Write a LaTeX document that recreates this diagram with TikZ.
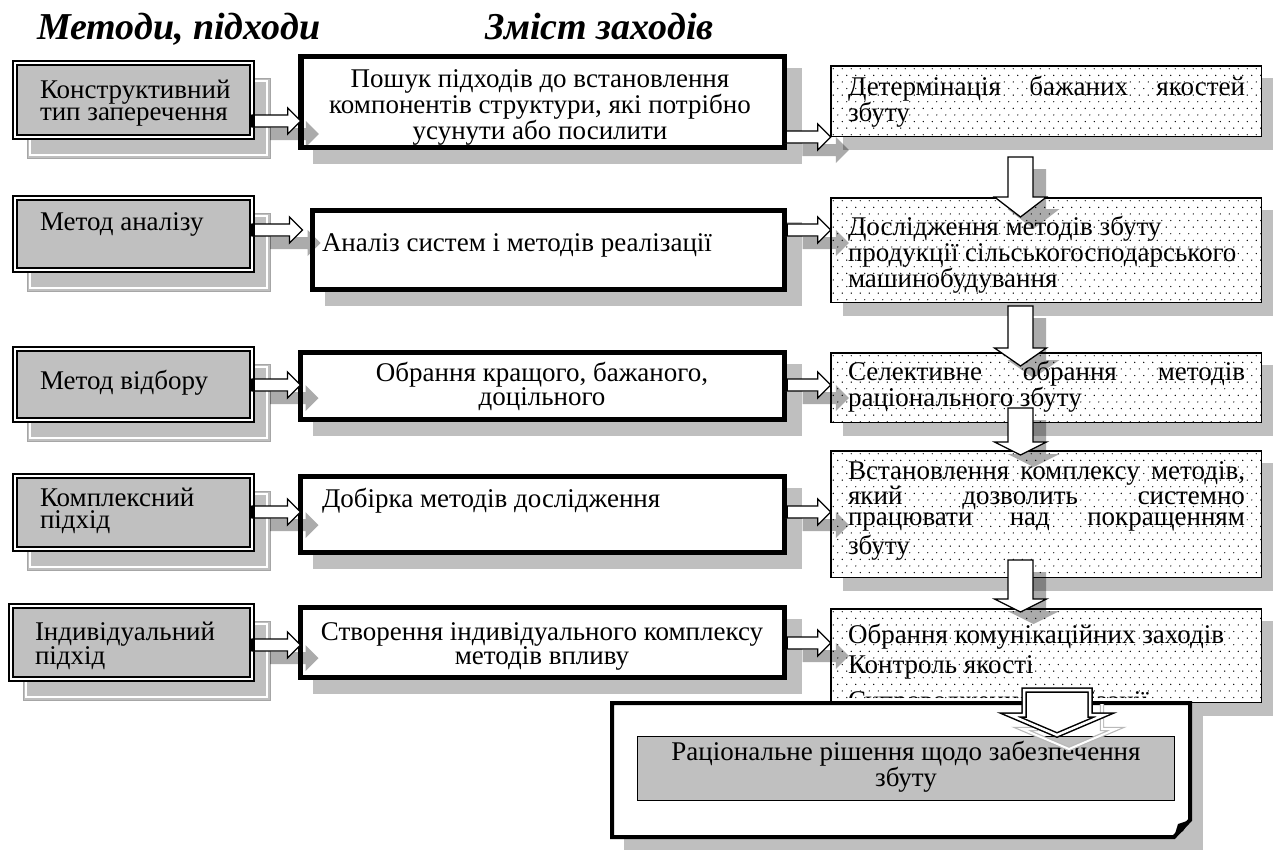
\documentclass[tikz,border=0pt]{standalone}
\usepackage{fontspec}
\setmainfont{Liberation Serif}
\usetikzlibrary{calc}
\definecolor{boxgray}{RGB}{192,192,192}
\definecolor{shadegray}{RGB}{191,191,191}

% horizontal block arrow: tail anchor, tip anchor, y level, x/y offset (pt, y up)
\newcommand\harrowpath[5]{let \p1=(#1), \p2=(#2), \p3=(0,#3) in
  ({\x1+#4pt},{\y3+#5pt+6pt}) -- ({\x2+#4pt-13pt},{\y3+#5pt+6pt}) --
  ({\x2+#4pt-13pt},{\y3+#5pt+13pt}) -- ({\x2+#4pt},{\y3+#5pt}) --
  ({\x2+#4pt-13pt},{\y3+#5pt-13pt}) -- ({\x2+#4pt-13pt},{\y3+#5pt-6pt}) --
  ({\x1+#4pt},{\y3+#5pt-6pt}) -- cycle}
% vertical block arrow: tail, tip, head length, x/y offset
\newcommand\varrowpath[5]{let \p1=(#1), \p2=(#2) in
  ({\x1+#4pt-12.5pt},{\y1+#5pt}) -- ({\x1+#4pt-12.5pt},{\y2+#5pt+#3pt}) --
  ({\x1+#4pt-26pt},{\y2+#5pt+#3pt}) -- ({\x1+#4pt},{\y2+#5pt}) --
  ({\x1+#4pt+26pt},{\y2+#5pt+#3pt}) -- ({\x1+#4pt+12.5pt},{\y2+#5pt+#3pt}) --
  ({\x1+#4pt+12.5pt},{\y1+#5pt}) -- cycle}
% arrow between columns, with its shadow and the dark tail block
\newcommand\linkarrow[3]{%
  \fill[arrshade] \harrowpath{#1}{#2}{#3}{18}{-13};
  \draw[arrowbody] \harrowpath{#1}{#2}{#3}{0}{0};
  \fill let \p1=(#1), \p3=(0,#3) in ({\x1-2.5pt},{\y3-6pt}) rectangle ({\x1+3pt},{\y3+6pt});}
\newcommand\colarrow[3]{%
  \fill[arrshade] \varrowpath{#1}{#2}{#3}{13}{-12};
  \draw[arrowbody] \varrowpath{#1}{#2}{#3}{0}{0};}
% dotted fill of the right-hand boxes
\newcommand\dotgrid[1]{%
  \begin{scope}
    \clip (#1.north west) rectangle (#1.south east);
    \path let \p1=(#1.north west) in coordinate (dg) at (\x1,\y1);
    \foreach \j in {0,...,20}{\foreach \i in {0,...,49}{%
      \fill ($(dg)+({2.5+\i*9+mod(\j,2)*4.5},{3+\j*6.6})$) circle[radius=0.7];}}
  \end{scope}}

\begin{document}
\begin{tikzpicture}[x=1pt,y=-1pt,
  every node/.style={inner sep=0pt, outer sep=0pt},
  txt/.style={font=\fontsize{27}{22.5}\selectfont},
  ttl/.style={font=\fontsize{38}{40}\selectfont\bfseries\itshape, anchor=base west},
  lbox/.style={draw, line width=1.8pt, double=white, double distance=2pt,
    fill=boxgray, anchor=north west},
  mbox/.style={draw, line width=5.5pt, fill=white, anchor=north west},
  dbox/.style={draw, line width=1.5pt, fill=white, anchor=north west},
  lshade/.style={fill=shadegray, draw=gray!70, line width=0.8pt},
  arrshade/.style={fill=black, fill opacity=0.33},
  arrowbody/.style={draw=black, line width=1.3pt, fill=white, line join=miter}]
\useasboundingbox (0,0) rectangle (1273,859);

% ---------- titles
\node[ttl] (t1) at (37,40) {Методи, підходи};
\node[ttl] (t2) at (485,40) {Зміст заходів};

% ---------- left column shadows
\foreach \x/\y/\w/\h in {12/60/243/80, 12/195/243/78, 12/346/243/77, 12/473/243/79, 8/603/247/79}{
  \filldraw[lshade] (\x+15,\y+18) rectangle (\x+15+\w,\y+18+\h);
  \draw[white, line width=1.2pt] (\x+18,\y+21) rectangle (\x+12+\w,\y+15+\h);}
% ---------- middle column shadows
\foreach \x/\y/\w/\h in {298/54/489/96, 310/208/477/84, 298/350/489/72, 298/474/489/81, 298/605/489/75}{
  \fill[shadegray] (\x+15,\y+14) rectangle (\x+15+\w,\y+14+\h);}
% ---------- right column shadows
\foreach \y/\h in {65/72, 197/106, 352/71, 450/128, 608/95}{
  \fill[shadegray] (843,\y+13) rectangle (1290,\y+13+\h);}
% ---------- result box shadow
\fill[shadegray] (624,715) rectangle (1203,850);

% ---------- left column
\node[lbox, minimum width=237, minimum height=74] (l1) at (15,63) {};
\node[lbox, minimum width=237, minimum height=72] (l2) at (15,198) {};
\node[lbox, minimum width=237, minimum height=71] (l3) at (15,349) {};
\node[lbox, minimum width=237, minimum height=73] (l4) at (15,476) {};
\node[lbox, minimum width=241, minimum height=73] (l5) at (11,606) {};
\node[txt, anchor=base west] (l1t) at (40,98) {\parbox[t]{210pt}{\raggedright Конструктивний\\тип заперечення}};
\node[txt, anchor=base west] (l2t) at (40,230) {Метод аналізу};
\node[txt, anchor=base west] (l3t) at (40,389) {Метод відбору};
\node[txt, anchor=base west] (l4t) at (40,506) {\parbox[t]{210pt}{\raggedright Комплексний\\підхід}};
\node[txt, anchor=base west] (l5t) at (35,640) {\parbox[t]{210pt}{\raggedright Індивідуальний\\підхід}};

% ---------- middle column
\node[mbox, minimum width=483.5, minimum height=90.5] (m1) at (300.75,56.75) {};
\node[mbox, minimum width=472, minimum height=79] (m2) at (312.5,210.5) {};
\node[mbox, minimum width=484, minimum height=67] (m3) at (300.5,352.5) {};
\node[mbox, minimum width=484, minimum height=76] (m4) at (300.5,476.5) {};
\node[mbox, minimum width=484, minimum height=70] (m5) at (300.5,607.5) {};
\node[txt, anchor=base] (m1t) at (540,87) {\parbox[t]{470pt}{\centering Пошук підходів до встановлення\\компонентів структури, які потрібно\\усунути або посилити}};
\node[txt, anchor=base west] (m2t) at (322,251) {Аналіз систем і методів реалізації};
\node[txt, anchor=base] (m3t) at (542,381) {\parbox[t]{470pt}{\centering Обрання кращого, бажаного,\\доцільного}};
\node[txt, anchor=base west] (m4t) at (322,507) {Добірка методів дослідження};
\node[txt, anchor=base] (m5t) at (542,640) {\parbox[t]{470pt}{\centering Створення індивідуального комплексу\\методів впливу}};

% ---------- right column
\node[dbox, minimum width=430.5, minimum height=70.5] (d1) at (830.75,65.75) {};
\node[dbox, minimum width=430.5, minimum height=104.5] (d2) at (830.75,197.75) {};
\node[dbox, minimum width=430.5, minimum height=69.5] (d3) at (830.75,352.75) {};
\node[dbox, minimum width=430.5, minimum height=126.5] (d4) at (830.75,450.75) {};
\node[dbox, minimum width=430.5, minimum height=93.5] (d5) at (830.75,608.75) {};
\foreach \b in {d1,d2,d3,d4,d5}{\dotgrid{\b}}
\node[font=\fontsize{27}{22}\selectfont, anchor=base west] (d1t) at (848,95) {\parbox[t]{397pt}{\makebox[397pt][s]{Детермінація бажаних якостей}\\збуту}};
\node[font=\fontsize{27}{26}\selectfont, anchor=base west] (d2t) at (848,235) {\parbox[t]{397pt}{\raggedright Дослідження методів збуту\\продукції сільськогосподарського\\машинобудування}};
\node[font=\fontsize{27}{23}\selectfont, anchor=base west] (d3t) at (848,380) {\parbox[t]{397pt}{\makebox[397pt][s]{Селективне обрання методів}\\раціонального збуту}};
\node[font=\fontsize{27}{21}\selectfont, anchor=base west] (d4t) at (848,479) {\parbox[t]{397pt}{\makebox[397pt][s]{Встановлення комплексу методів,}\\\makebox[397pt][s]{який дозволить системно}\\\makebox[397pt][s]{працювати над покращенням}\\[3pt]збуту}};
\begin{scope}
  \clip (d5.north west) rectangle ($(d5.south east)+(0,-5)$);
  \node[font=\fontsize{27}{30}\selectfont, anchor=base west] (d5t) at (848,643) {\parbox[t]{397pt}{\raggedright Обрання комунікаційних заходів\\Контроль якості\\[6pt]Супроводження реалізації}};
\end{scope}

% ---------- arrows between columns
\linkarrow{l1.east}{m1.west}{121}
\linkarrow{l2.east}{$(m2.west)+(-10,0)$}{230}
\linkarrow{l3.east}{m3.west}{385}
\linkarrow{l4.east}{m4.west}{512}
\linkarrow{l5.east}{m5.west}{645}
\linkarrow{m1.east}{d1.west}{137}
\linkarrow{m2.east}{d2.west}{230}
\linkarrow{m3.east}{d3.west}{385}
\linkarrow{m4.east}{d4.west}{512}
\linkarrow{m5.east}{d5.west}{643}

% ---------- arrows down the right column
\coordinate (v1a) at (1020.5,157); \coordinate (v1b) at (1020.5,217);
\coordinate (v2a) at (1020.5,306); \coordinate (v2b) at (1020.5,366);
\coordinate (v3a) at (1020.5,408); \coordinate (v3b) at (1020.5,455);
\coordinate (v4a) at (1020.5,560); \coordinate (v4b) at (1020.5,612);
\colarrow{v1a}{v1b}{20}
\colarrow{v2a}{v2b}{18}
\colarrow{v3a}{v3b}{13}
\colarrow{v4a}{v4b}{13}

% ---------- result box
\draw[line width=4pt, fill=white, line join=miter] (612,703) -- (1190,703) -- (1190,820) -- (1174,837) -- (612,837) -- cycle;
\fill (1174,837) -- (1178,824) -- (1190,820) -- (1183,831) -- cycle;
\node[draw, line width=1.5pt, fill=boxgray, anchor=north west, minimum width=537, minimum height=64] (res) at (637.5,736.5) {};
\node[txt, anchor=base] (rest) at (906,760) {\parbox[t]{530pt}{\centering Раціональне рішення щодо забезпечення\\збуту}};

% ---------- arrow into the result box
\coordinate (ba) at (1057,690); \coordinate (bb) at (1057,735);
\draw[gray!55, line width=1.2pt, double=white, double distance=2pt] let \p1=(ba), \p2=(bb) in
  ({\x1+12pt-33pt},{\y1-14pt}) -- ({\x1+12pt-33pt},{\y2-14pt+20pt}) -- ({\x1+12pt-47pt},{\y2-14pt+20pt}) -- ({\x1+12pt},{\y2-14pt}) --
  ({\x1+12pt+47pt},{\y2-14pt+20pt}) -- ({\x1+12pt+33pt},{\y2-14pt+20pt}) -- ({\x1+12pt+33pt},{\y1-14pt});
\draw[black, line width=1.5pt, double=white, double distance=2.5pt, fill=white, line join=miter] let \p1=(ba), \p2=(bb) in
  ({\x1-33pt},{\y1}) -- ({\x1-33pt},{\y2+20pt}) -- ({\x1-47pt},{\y2+20pt}) -- (\x1,\y2) --
  ({\x1+47pt},{\y2+20pt}) -- ({\x1+33pt},{\y2+20pt}) -- ({\x1+33pt},{\y1}) -- cycle;
\end{tikzpicture}
\end{document}
